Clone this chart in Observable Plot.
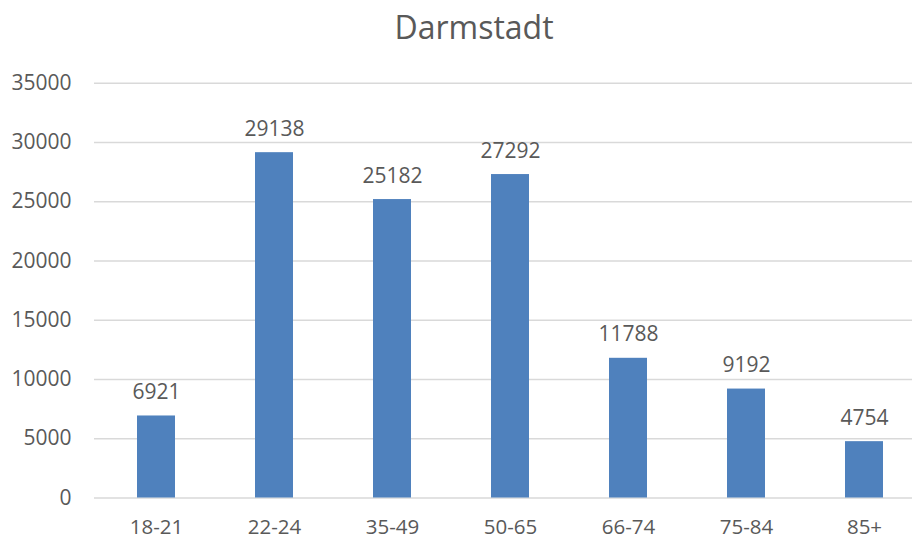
<!DOCTYPE html>
<html>
<head>
<meta charset="utf-8">
<script src="https://cdn.jsdelivr.net/npm/d3@7"></script>
<script src="https://cdn.jsdelivr.net/npm/@observablehq/plot@0.6"></script>
<style>
  html, body { margin: 0; padding: 0; background: #fff; }
  #chart svg { display: block; }
</style>
</head>
<body>
<div id="chart"></div>
<script>
const title = "Darmstadt";
const categories = ["18-21", "22-24", "35-49", "50-65", "66-74", "75-84", "85+"];
const values = [6921, 29138, 25182, 27292, 11788, 9192, 4754];
const yTicks = [0, 5000, 10000, 15000, 20000, 25000, 30000, 35000];

const data = categories.map((c, i) => ({ group: c, value: values[i] }));
const textColor = "#595959";
const font = "'Open Sans', sans-serif";

const chart = Plot.plot({
  width: 912,
  height: 540,
  marginLeft: 94,
  marginRight: 0,
  marginTop: 82.7,
  marginBottom: 42.5,
  style: { fontFamily: font, fontSize: "21px", color: textColor, background: "#fff" },
  x: { domain: categories, range: [94.4, 924.8], paddingInner: 0.682, paddingOuter: 0.341, label: null },
  y: { domain: [0, 35000], label: null },
  marks: [
    Plot.gridY(yTicks, { stroke: "#d9d9d9", strokeOpacity: 1, strokeWidth: 1.4 }),
    Plot.barY(data, { x: "group", y: "value", fill: "#4f81bd" }),
    Plot.text(data, { x: "group", y: "value", text: d => String(d.value), lineAnchor: "bottom", dy: -17, fill: textColor, fontSize: 21 }),
    Plot.axisY(yTicks, { tickSize: 0, tickPadding: 23, tickFormat: d3.format("d"), fill: textColor, fontSize: 21, label: null }),
    Plot.axisX({ tickSize: 0, tickPadding: 21.5, fill: textColor, fontSize: 20.5, label: null })
  ]
});

d3.select(chart).append("text")
  .attr("x", 474)
  .attr("y", 39.3)
  .attr("text-anchor", "middle")
  .attr("fill", textColor)
  .style("font-family", font)
  .style("font-size", "32px")
  .text(title);

document.getElementById("chart").appendChild(chart);
</script>
</body>
</html>
